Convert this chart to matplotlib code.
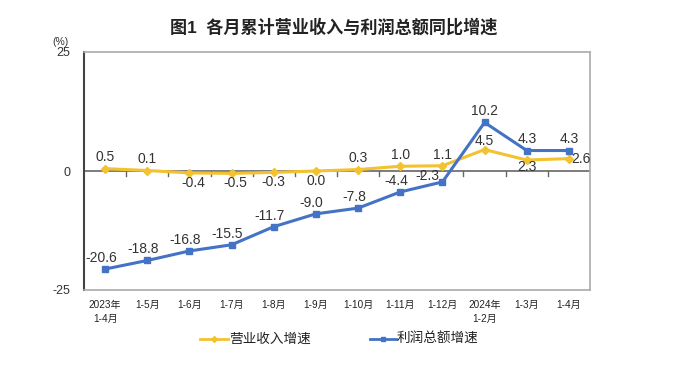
import numpy as np
import matplotlib.pyplot as plt

plt.rcParams['font.family'] = ['Liberation Sans', 'Noto Sans CJK SC', 'DejaVu Sans']

months = ['2023年\n1-4月', '1-5月', '1-6月', '1-7月', '1-8月', '1-9月', '1-10月',
          '1-11月', '1-12月', '2024年\n1-2月', '1-3月', '1-4月']
revenue = [0.5, 0.1, -0.4, -0.5, -0.3, 0.0, 0.3, 1.0, 1.1, 4.5, 2.3, 2.6]
profit = [-20.6, -18.8, -16.8, -15.5, -11.7, -9.0, -7.8, -4.4, -2.3, 10.2, 4.3, 4.3]

# label offsets (points) and vertical alignment for each point
rev_off = [(0, 3), (0, 3), (3, -2), (3, -2), (0, -2), (0, -2), (0, 3), (0, 3),
           (0, 3), (0, 1), (0, 0), (9, 0)]
rev_va = ['bottom', 'bottom', 'top', 'top', 'top', 'top', 'bottom', 'bottom',
          'bottom', 'bottom', 'top', 'center']
pro_off = [(-3, 3), (-3, 3), (-3, 3), (-3, 3), (-3, 3), (-3, 3), (-3, 3), (-3, 3),
           (-11, 4), (0, 3), (0, 3), (0, 3)]
pro_va = ['bottom'] * 8 + ['center'] + ['bottom'] * 3

yellow = '#F2C230'
blue = '#4472C4'

fig = plt.figure(figsize=(6.75, 3.66), dpi=100)
ax = fig.add_axes([84 / 675, 1 - 290 / 366, 506 / 675, 238 / 366])

x = np.arange(len(months))
ax.plot(x, revenue, color=yellow, lw=2.2, marker='D', ms=4, zorder=3)
ax.plot(x, profit, color=blue, lw=2.2, marker='s', ms=4, zorder=3)

for i, v in enumerate(revenue):
    ax.annotate(f'{v:.1f}', (x[i], v), xytext=rev_off[i], textcoords='offset points',
                ha='center', va=rev_va[i], fontsize=10, color='#333333')
for i, v in enumerate(profit):
    ax.annotate(f'{v:.1f}', (x[i], v), xytext=pro_off[i], textcoords='offset points',
                ha='center', va=pro_va[i], fontsize=10, color='#333333')

ax.set_xlim(-0.5, len(months) - 0.5)
ax.set_ylim(-25, 25)
ax.set_yticks([-25, 0, 25])
ax.set_yticklabels(['-25', '0', '25'], fontsize=9, color='#333333')
ax.tick_params(axis='y', length=0, pad=10)
ax.set_xticks([])

# zero line with category boundary ticks
ax.axhline(0, color='#666666', lw=1.2, zorder=2)
for b in np.arange(0.5, len(months) - 0.5, 1):
    ax.plot([b, b], [0, -1.0], color='#666666', lw=1, zorder=2)

for s in ['top', 'right', 'bottom']:
    ax.spines[s].set_color('#AAAAAA')
    ax.spines[s].set_linewidth(1.2)
ax.spines['left'].set_color('#444444')
ax.spines['left'].set_linewidth(1.5)

for i, m in enumerate(months):
    ax.text(x[i], -27, m, ha='center', va='top', fontsize=7.2, color='#222222',
            linespacing=1.6)

ax.text(-1.05, 26.0, '(%)', ha='center', va='bottom', fontsize=7.5, color='#333333')

fig.text(0.495, 1 - 27 / 366, '图1  各月累计营业收入与利润总额同比增速', ha='center', va='center',
         fontsize=12.3, fontweight='bold', color='#222222')

# legend below chart
ly = 1 - 339 / 366
fig.lines.append(plt.Line2D([200 / 675, 228 / 675], [ly, ly], color=yellow, lw=2,
                            transform=fig.transFigure))
fig.lines.append(plt.Line2D([214 / 675], [ly], color=yellow, marker='D', ms=3,
                            transform=fig.transFigure))
fig.text(229 / 675, ly, '营业收入增速', ha='left', va='center', fontsize=9.8, color='#222222')
fig.lines.append(plt.Line2D([370 / 675, 396 / 675], [ly, ly], color=blue, lw=2,
                            transform=fig.transFigure))
fig.lines.append(plt.Line2D([383 / 675], [ly], color=blue, marker='s', ms=3,
                            transform=fig.transFigure))
fig.text(397 / 675, ly, '利润总额增速', ha='left', va='center', fontsize=9.8, color='#222222')

fig.savefig('out.png', dpi=100)
